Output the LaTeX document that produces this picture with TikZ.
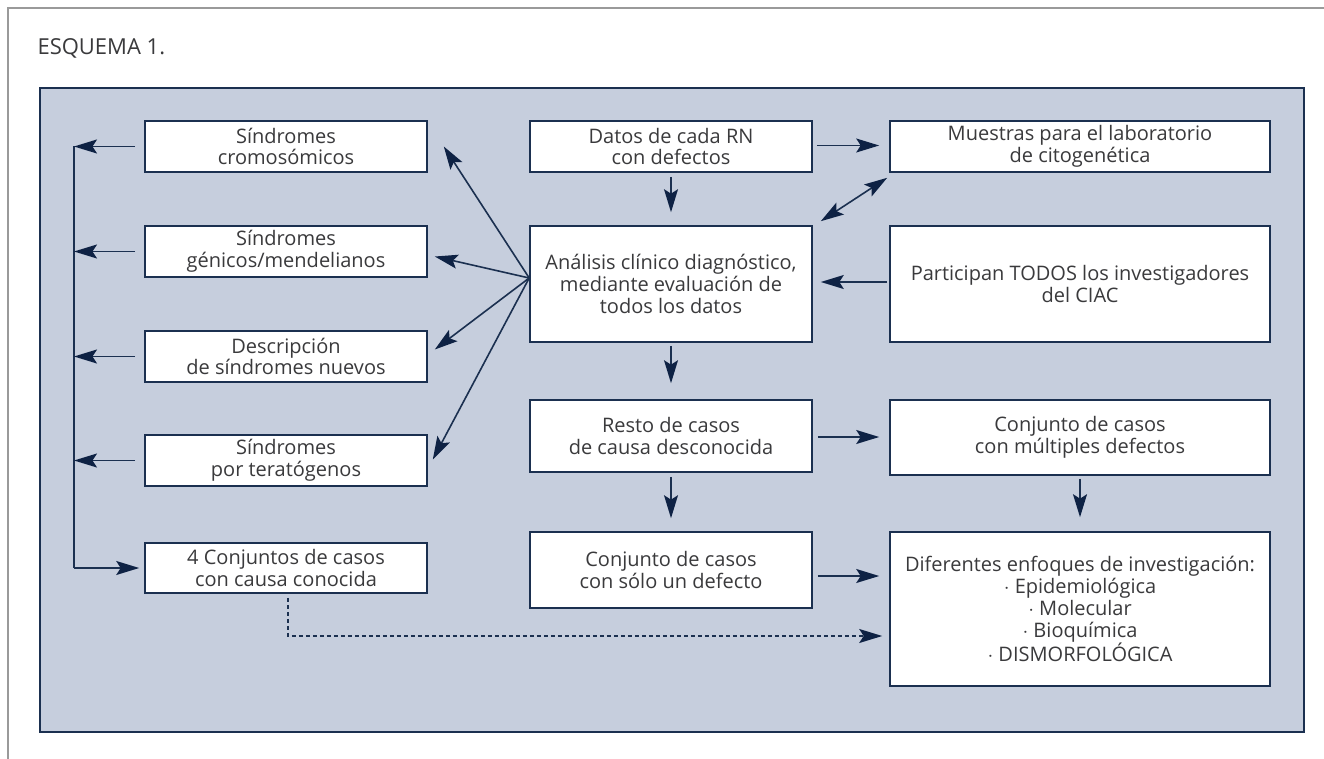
\documentclass[tikz,border=0pt]{standalone}
\usepackage{fontspec}
\setmainfont{Open Sans}
\usetikzlibrary{arrows.meta,calc}
\definecolor{panelfill}{HTML}{C6CEDD}
\definecolor{navy}{HTML}{1B3050}
\definecolor{tipnavy}{HTML}{0E2244}
\definecolor{txt}{HTML}{3A3A3C}
\definecolor{framegray}{HTML}{9A9A9A}
\tikzset{
  box/.style={draw=navy, line width=1.6pt, fill=white, text=txt, align=center,
    minimum width=282pt, inner sep=2pt,
    font=\fontsize{20}{21.8}\selectfont},
  wbox/.style={box, minimum width=380pt},
  arr/.style={draw=navy, line width=1.6pt, -{Stealth[length=23pt,width=14pt,inset=4.5pt,color=tipnavy]}},
  darr/.style={draw=navy, line width=1.6pt, {Stealth[length=23pt,width=14pt,inset=4.5pt,color=tipnavy]}-{Stealth[length=23pt,width=14pt,inset=4.5pt,color=tipnavy]}},
  plain/.style={draw=navy, line width=1.6pt},
}
\begin{document}
\begin{tikzpicture}[x=1pt,y=-1pt]
\useasboundingbox (0,0) rectangle (1324,759);
\fill[white] (0,0) rectangle (1324,759);
% outer frame
\draw[framegray, line width=1.5pt] (8,759) -- (8,8) -- (1324,8);
\node[anchor=west, text=txt, font=\fontsize{22}{26}\selectfont] (title) at (34,48) {ESQUEMA 1.};
% panel
\draw[navy, line width=1.6pt, fill=panelfill] (40,88) rectangle (1304,732);

% left column
\node[box, minimum height=51pt] (cro) at (286,146.5) {Síndromes\\cromosómicos};
\node[box, minimum height=51pt] (gen) at (286,251.5) {Síndromes\\génicos/mendelianos};
\node[box, minimum height=51pt] (des) at (286,356.5) {Descripción\\de síndromes nuevos};
\node[box, minimum height=51pt] (ter) at (286,460.5) {Síndromes\\por teratógenos};
\node[box, minimum height=50pt] (con4) at (286,568) {4 Conjuntos de casos\\con causa conocida};

% middle column
\node[box, minimum height=51pt] (datos) at (671,146.5) {Datos de cada RN\\con defectos};
\node[box, minimum height=116pt] (anal) at (671,284) {Análisis clínico diagnóstico,\\mediante evaluación de\\todos los datos};
\node[box, minimum height=72pt] (resto) at (671,436) {Resto de casos\\de causa desconocida};
\node[box, minimum height=76pt] (solo) at (671,570) {Conjunto de casos\\con sólo un defecto};

% right column
\node[wbox, minimum height=51pt] (mues) at (1080,146.5) {Muestras para el laboratorio\\de citogenética};
\node[wbox, minimum height=116pt] (part) at (1080,284) {Participan TODOS los investigadores\\del CIAC};
\node[wbox, minimum height=75pt] (mult) at (1080,437.5) {Conjunto de casos\\con múltiples defectos};
\node[wbox, minimum height=154pt] (dif) at (1080,609) {Diferentes enfoques de investigación:\\$\cdot$ Epidemiológica\\$\cdot$ Molecular\\$\cdot$ Bioquímica\\$\cdot$ DISMORFOLÓGICA};

% left bus
\coordinate (bus) at (74,0);
\draw[plain] (cro.west -| bus) -- (con4.west -| bus);
\foreach \n in {cro,gen,des,ter}{
  \draw[arr, shorten <=9pt] (\n.west) -- (\n.west -| bus);
}
\draw[arr, shorten >=5pt] (con4.west -| bus) -- (con4.west);

% fan from analysis
\coordinate (fan) at ([yshift=6pt]anal.west);
\draw[arr] (fan) -- ([xshift=16pt]cro.east);
\draw[arr] (fan) -- ([xshift=7pt,yshift=-5pt]gen.east);
\draw[arr] (fan) -- ([xshift=7pt,yshift=7pt]des.east);
\draw[arr] (fan) -- ([xshift=5pt,yshift=1pt]ter.east);

% middle flows
\draw[arr, shorten <=4pt, shorten >=13pt] (datos.south) -- (anal.north);
\draw[arr, shorten <=3pt, shorten >=16pt] (anal.south) -- (resto.north);
\draw[arr, shorten <=4pt, shorten >=13pt] (resto.south) -- (solo.north);
\draw[arr, shorten <=3pt, shorten >=14pt] (mult.south) -- (dif.north);

% horizontal flows
\draw[arr, shorten <=4pt, shorten >=10pt] ([yshift=1pt]datos.east) -- ([yshift=1pt]datos.east -| mues.west);
\draw[arr, shorten <=2pt, shorten >=8pt] ([yshift=2pt]part.west) -- ([yshift=2pt]part.west -| anal.east);
\draw[arr, shorten <=5pt, shorten >=10pt] ([yshift=-1pt]resto.east) -- ([yshift=-1pt]resto.east -| mult.west);
\draw[arr, shorten <=5pt, shorten >=10pt] ([yshift=-6pt]solo.east) -- ([yshift=-6pt]solo.east -| dif.west);
\draw[darr] ([xshift=8pt,yshift=4pt]anal.north east) -- ([xshift=-2pt,yshift=-5pt]mues.south west);

% dashed link
\draw[arr, dash pattern=on 4pt off 3pt, line width=1.4pt, shorten <=4pt, shorten >=7pt]
  ([xshift=2pt]con4.south) |- ([yshift=-27pt]dif.west);
\end{tikzpicture}
\end{document}
